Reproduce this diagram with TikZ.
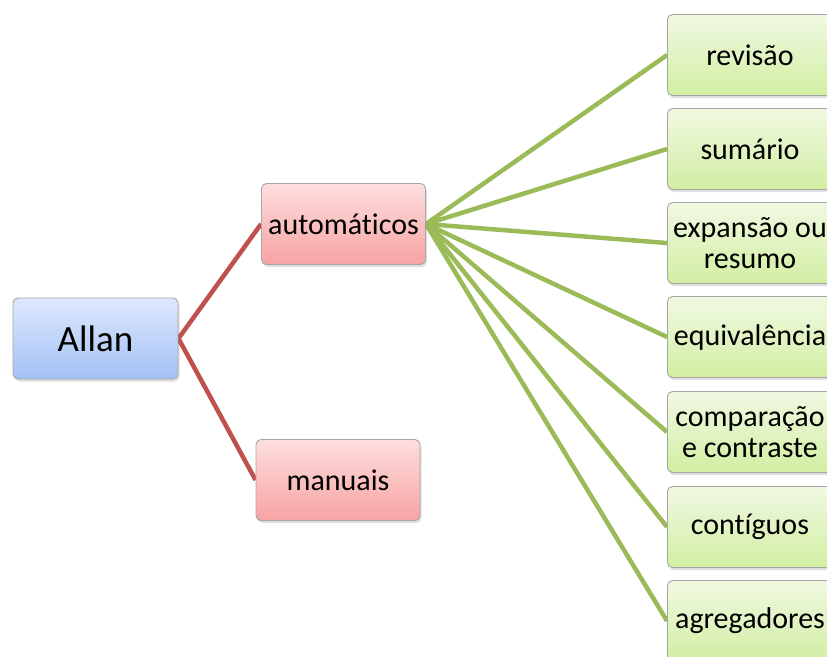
\documentclass[tikz,border=0pt]{standalone}
\usepackage{fontspec}
\setmainfont{Carlito}[Ligatures={NoCommon}]
\usetikzlibrary{shadows,backgrounds}
\definecolor{redline}{HTML}{C0504D}
\definecolor{greenline}{HTML}{9BBB59}
\definecolor{bluetop}{HTML}{DDE8FD}
\definecolor{bluebot}{HTML}{A3C1F5}
\definecolor{redtop}{HTML}{FDDEDE}
\definecolor{redbot}{HTML}{F8A3A3}
\definecolor{greentop}{HTML}{F0F9E2}
\definecolor{greenbot}{HTML}{D2EEA2}

\tikzset{
  box/.style={rounded corners=5pt, draw=black!35, line width=0.9pt, align=center, inner sep=0pt,
    minimum height=81pt, drop shadow={opacity=0.25, shadow xshift=1.5pt, shadow yshift=-2.5pt},
    font=\fontsize{30}{31}\selectfont},
  rootbox/.style={box, minimum width=165pt, top color=bluetop, bottom color=bluebot,
    font=\fontsize{37}{38}\selectfont},
  redbox/.style={box, minimum width=164pt, top color=redtop, bottom color=redbot},
  greenbox/.style={box, minimum width=165pt, top color=greentop, bottom color=greenbot},
  redlink/.style={draw=redline, line width=4.5pt},
  greenlink/.style={draw=greenline, line width=4.5pt}
}

\begin{document}
\begin{tikzpicture}[x=1pt, y=-1pt]
\useasboundingbox (0,0) rectangle (827,656);
% level 0 and 1
\node[rootbox](allan) at (95.5,338.5){Allan};
\node[redbox](auto) at (343.5,224){automáticos};
\node[redbox](manual) at (338,480){manuais};
% level 2
\node[greenbox](rev) at (750,55){revisão};
\node[greenbox](sum) at (750,149){sumário};
\node[greenbox](exp) at (750,243){expansão ou\\resumo};
\node[greenbox](equ) at (750,337){equivalência};
\node[greenbox](cmp) at (750,432){comparação\\e contraste};
\node[greenbox](cont) at (750,527){contíguos};
\node[greenbox](agr) at (750,621){agregadores};
\begin{scope}[on background layer]
\draw[redlink](allan.east)--(auto.west) (allan.east)--(manual.west);
\foreach \n in {rev,sum,exp,equ,cmp,cont,agr}
  \draw[greenlink](auto.east)--(\n.west);
\end{scope}
\end{tikzpicture}
\end{document}
